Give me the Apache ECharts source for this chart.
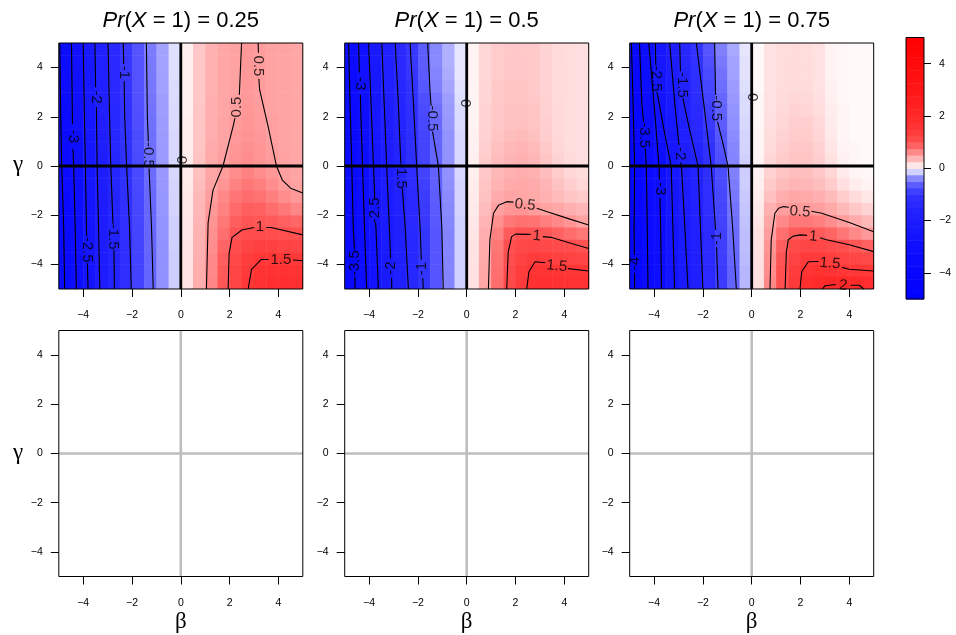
<!DOCTYPE html>
<html><head><meta charset="utf-8">
<script src="https://cdn.jsdelivr.net/npm/echarts@6/dist/echarts.min.js"></script>
<style>html,body{margin:0;padding:0;background:#fff}#c{width:956px;height:635px}</style>
</head><body><div id="c"></div>
<script>
// ---------- data ----------
const betaMid = [-4.75,-4.25,-3.75,-3.25,-2.75,-2.25,-1.75,-1.25,-0.75,-0.25,0.25,0.75,1.25,1.75,2.25,2.75,3.25,3.75,4.25,4.75];
const gammaMid = [4.75,4.25,3.75,3.25,2.75,2.25,1.75,1.25,0.75,0.25,-0.25,-0.75,-1.25,-1.75,-2.25,-2.75,-3.25,-3.75,-4.25,-4.75];
const axisTicks = [-4,-2,0,2,4];
const colorbarTicks = [-4,-2,0,2,4];
const colorbarBreaks = [-5,-4.75,-4.5,-4.25,-4,-3.75,-3.5,-3.25,-3,-2.75,-2.5,-2.25,-2,-1.75,-1.5,-1.25,-1,-0.75,-0.5,-0.25,0,0.25,0.5,0.75,1,1.25,1.5,1.75,2,2.25,2.5,2.75,3,3.25,3.5,3.75,4,4.25,4.5,4.75,5];
const probTitles = ['0.25','0.5','0.75'];

const heat025 = [
[-3.28,-2.76,-2.24,-1.75,-1.31,-0.94,-0.68,-0.44,-0.26,-0.09,0.08,0.28,0.4,0.45,0.48,0.53,0.51,0.48,0.47,0.46],
[-3.3,-2.78,-2.26,-1.77,-1.32,-0.95,-0.69,-0.45,-0.26,-0.09,0.08,0.28,0.4,0.45,0.48,0.53,0.51,0.48,0.47,0.46],
[-3.32,-2.8,-2.28,-1.78,-1.34,-0.96,-0.7,-0.45,-0.27,-0.09,0.08,0.28,0.4,0.45,0.48,0.53,0.51,0.48,0.47,0.46],
[-3.34,-2.82,-2.3,-1.8,-1.35,-0.97,-0.7,-0.46,-0.27,-0.1,0.08,0.28,0.4,0.45,0.48,0.53,0.51,0.48,0.47,0.46],
[-3.36,-2.84,-2.32,-1.82,-1.37,-0.99,-0.71,-0.47,-0.28,-0.1,0.08,0.28,0.41,0.46,0.49,0.53,0.5,0.48,0.47,0.46],
[-3.38,-2.86,-2.34,-1.84,-1.39,-1.0,-0.72,-0.48,-0.28,-0.1,0.08,0.29,0.41,0.46,0.5,0.54,0.51,0.48,0.47,0.46],
[-3.4,-2.88,-2.36,-1.86,-1.41,-1.01,-0.73,-0.49,-0.29,-0.1,0.09,0.29,0.42,0.47,0.51,0.55,0.52,0.49,0.47,0.46],
[-3.42,-2.9,-2.38,-1.88,-1.43,-1.03,-0.74,-0.5,-0.29,-0.11,0.09,0.3,0.42,0.47,0.53,0.56,0.53,0.49,0.47,0.46],
[-3.44,-2.91,-2.39,-1.89,-1.44,-1.04,-0.75,-0.5,-0.3,-0.11,0.09,0.3,0.43,0.48,0.54,0.58,0.55,0.5,0.47,0.46],
[-3.46,-2.93,-2.41,-1.91,-1.46,-1.05,-0.76,-0.51,-0.3,-0.11,0.1,0.31,0.44,0.49,0.56,0.6,0.56,0.52,0.48,0.46],
[-3.48,-2.95,-2.43,-1.93,-1.47,-1.06,-0.77,-0.52,-0.31,-0.11,0.1,0.32,0.45,0.51,0.6,0.66,0.6,0.54,0.49,0.47],
[-3.5,-2.97,-2.45,-1.95,-1.49,-1.08,-0.78,-0.53,-0.31,-0.12,0.11,0.34,0.47,0.56,0.66,0.72,0.68,0.6,0.52,0.48],
[-3.52,-2.99,-2.47,-1.96,-1.5,-1.09,-0.79,-0.54,-0.32,-0.12,0.12,0.36,0.5,0.62,0.74,0.8,0.76,0.68,0.6,0.53],
[-3.54,-3.01,-2.49,-1.98,-1.52,-1.1,-0.8,-0.55,-0.32,-0.12,0.12,0.37,0.53,0.67,0.82,0.9,0.88,0.8,0.72,0.64],
[-3.56,-3.03,-2.51,-2.0,-1.53,-1.11,-0.81,-0.55,-0.33,-0.13,0.13,0.38,0.56,0.72,0.9,0.97,0.96,0.93,0.88,0.84],
[-3.57,-3.04,-2.52,-2.01,-1.54,-1.12,-0.82,-0.56,-0.33,-0.13,0.13,0.39,0.58,0.78,0.98,1.08,1.1,1.08,1.03,0.99],
[-3.58,-3.05,-2.53,-2.02,-1.55,-1.13,-0.82,-0.56,-0.34,-0.13,0.14,0.4,0.6,0.85,1.08,1.25,1.33,1.33,1.28,1.22],
[-3.59,-3.06,-2.54,-2.02,-1.55,-1.13,-0.83,-0.57,-0.34,-0.14,0.14,0.41,0.62,0.9,1.15,1.38,1.5,1.52,1.5,1.46],
[-3.6,-3.07,-2.55,-2.03,-1.56,-1.14,-0.83,-0.57,-0.34,-0.14,0.15,0.42,0.63,0.93,1.2,1.45,1.62,1.7,1.68,1.62],
[-3.6,-3.07,-2.55,-2.03,-1.56,-1.14,-0.83,-0.57,-0.34,-0.14,0.15,0.42,0.64,0.95,1.22,1.5,1.7,1.78,1.77,1.72]
];
const heat050 = [
[-3.39,-2.78,-2.25,-1.79,-1.35,-0.95,-0.62,-0.38,-0.22,-0.07,0.06,0.2,0.26,0.28,0.28,0.27,0.22,0.18,0.17,0.16],
[-3.39,-2.78,-2.25,-1.79,-1.35,-0.95,-0.62,-0.38,-0.22,-0.07,0.06,0.2,0.26,0.28,0.28,0.27,0.22,0.18,0.17,0.16],
[-3.41,-2.81,-2.27,-1.81,-1.37,-0.97,-0.64,-0.4,-0.23,-0.07,0.06,0.2,0.26,0.28,0.28,0.27,0.22,0.18,0.17,0.16],
[-3.43,-2.84,-2.29,-1.84,-1.4,-1.0,-0.67,-0.42,-0.25,-0.08,0.06,0.21,0.27,0.29,0.29,0.27,0.22,0.18,0.17,0.16],
[-3.47,-2.9,-2.34,-1.89,-1.46,-1.06,-0.72,-0.47,-0.28,-0.09,0.06,0.21,0.27,0.3,0.3,0.28,0.23,0.18,0.17,0.16],
[-3.5,-2.95,-2.38,-1.93,-1.51,-1.1,-0.76,-0.51,-0.3,-0.1,0.06,0.22,0.28,0.31,0.31,0.29,0.23,0.19,0.17,0.16],
[-3.52,-2.99,-2.41,-1.96,-1.54,-1.13,-0.79,-0.54,-0.31,-0.1,0.06,0.22,0.28,0.31,0.32,0.3,0.24,0.19,0.17,0.16],
[-3.54,-3.02,-2.43,-1.98,-1.57,-1.16,-0.82,-0.57,-0.33,-0.11,0.07,0.23,0.3,0.33,0.35,0.32,0.25,0.19,0.17,0.16],
[-3.54,-3.02,-2.43,-1.98,-1.57,-1.16,-0.82,-0.57,-0.33,-0.11,0.07,0.24,0.32,0.36,0.38,0.35,0.27,0.2,0.17,0.16],
[-3.54,-3.02,-2.43,-1.98,-1.57,-1.16,-0.82,-0.57,-0.33,-0.11,0.08,0.26,0.34,0.38,0.4,0.37,0.3,0.22,0.18,0.16],
[-3.56,-3.04,-2.46,-2.0,-1.6,-1.19,-0.84,-0.59,-0.34,-0.11,0.08,0.28,0.36,0.4,0.42,0.4,0.34,0.26,0.2,0.17],
[-3.59,-3.06,-2.5,-2.03,-1.63,-1.23,-0.87,-0.61,-0.35,-0.12,0.09,0.3,0.39,0.43,0.44,0.43,0.38,0.31,0.25,0.2],
[-3.62,-3.09,-2.54,-2.07,-1.67,-1.28,-0.9,-0.63,-0.37,-0.12,0.1,0.31,0.43,0.47,0.45,0.44,0.4,0.35,0.3,0.26],
[-3.64,-3.11,-2.57,-2.1,-1.7,-1.31,-0.92,-0.64,-0.38,-0.12,0.11,0.34,0.49,0.55,0.56,0.52,0.48,0.45,0.41,0.37],
[-3.66,-3.13,-2.6,-2.12,-1.72,-1.34,-0.94,-0.66,-0.39,-0.13,0.12,0.38,0.58,0.72,0.77,0.75,0.68,0.62,0.55,0.48],
[-3.7,-3.16,-2.64,-2.16,-1.76,-1.39,-0.98,-0.68,-0.4,-0.13,0.13,0.41,0.66,0.92,0.99,0.98,0.94,0.88,0.8,0.72],
[-3.7,-3.16,-2.64,-2.16,-1.76,-1.39,-0.98,-0.68,-0.4,-0.13,0.14,0.43,0.72,1.01,1.15,1.2,1.16,1.1,1.06,0.98],
[-3.7,-3.16,-2.64,-2.16,-1.76,-1.39,-0.98,-0.68,-0.4,-0.13,0.14,0.44,0.76,1.07,1.28,1.43,1.38,1.33,1.28,1.23],
[-3.7,-3.16,-2.64,-2.16,-1.76,-1.39,-0.98,-0.68,-0.4,-0.13,0.15,0.45,0.78,1.1,1.37,1.6,1.58,1.56,1.52,1.5],
[-3.7,-3.16,-2.64,-2.16,-1.76,-1.39,-0.98,-0.68,-0.4,-0.13,0.15,0.46,0.8,1.12,1.42,1.7,1.72,1.7,1.66,1.63]
];
const heat075 = [
[-3.74,-3.04,-2.38,-1.89,-1.39,-0.99,-0.68,-0.42,-0.24,-0.07,0.03,0.14,0.17,0.18,0.17,0.15,0.06,0.04,0.03,0.03],
[-3.76,-3.08,-2.44,-1.94,-1.44,-1.04,-0.72,-0.45,-0.26,-0.08,0.03,0.14,0.17,0.18,0.17,0.15,0.06,0.04,0.03,0.03],
[-3.79,-3.13,-2.5,-2.0,-1.49,-1.09,-0.76,-0.48,-0.27,-0.08,0.03,0.14,0.17,0.18,0.17,0.15,0.06,0.04,0.03,0.03],
[-3.81,-3.17,-2.56,-2.05,-1.54,-1.14,-0.8,-0.51,-0.29,-0.09,0.03,0.14,0.17,0.18,0.18,0.15,0.07,0.04,0.03,0.03],
[-3.83,-3.22,-2.63,-2.11,-1.6,-1.2,-0.84,-0.55,-0.31,-0.1,0.04,0.15,0.18,0.2,0.19,0.16,0.08,0.04,0.03,0.03],
[-3.86,-3.26,-2.71,-2.18,-1.66,-1.27,-0.89,-0.59,-0.33,-0.1,0.04,0.15,0.19,0.22,0.21,0.17,0.09,0.05,0.03,0.03],
[-3.88,-3.31,-2.79,-2.26,-1.73,-1.35,-0.93,-0.63,-0.35,-0.11,0.04,0.16,0.2,0.24,0.24,0.19,0.1,0.05,0.03,0.03],
[-3.91,-3.36,-2.86,-2.33,-1.8,-1.42,-0.98,-0.67,-0.37,-0.12,0.05,0.17,0.22,0.26,0.26,0.21,0.11,0.05,0.03,0.03],
[-3.93,-3.4,-2.92,-2.39,-1.85,-1.49,-1.02,-0.7,-0.39,-0.12,0.05,0.18,0.24,0.28,0.28,0.23,0.13,0.06,0.04,0.03],
[-3.95,-3.44,-2.98,-2.44,-1.9,-1.55,-1.06,-0.73,-0.4,-0.13,0.06,0.2,0.26,0.3,0.3,0.25,0.15,0.07,0.04,0.03],
[-3.95,-3.45,-2.99,-2.46,-1.93,-1.57,-1.09,-0.75,-0.42,-0.14,0.07,0.23,0.3,0.33,0.33,0.28,0.2,0.1,0.05,0.04],
[-3.95,-3.45,-3.0,-2.48,-1.96,-1.6,-1.12,-0.77,-0.44,-0.14,0.08,0.27,0.35,0.38,0.37,0.33,0.26,0.16,0.09,0.06],
[-3.96,-3.46,-3.01,-2.5,-1.99,-1.63,-1.15,-0.79,-0.46,-0.15,0.09,0.32,0.42,0.45,0.44,0.41,0.35,0.26,0.18,0.12],
[-3.96,-3.47,-3.02,-2.52,-2.02,-1.67,-1.18,-0.82,-0.48,-0.16,0.11,0.4,0.5,0.53,0.52,0.5,0.44,0.36,0.28,0.22],
[-3.97,-3.47,-3.02,-2.53,-2.05,-1.7,-1.21,-0.84,-0.5,-0.17,0.13,0.46,0.62,0.72,0.72,0.68,0.6,0.51,0.43,0.36],
[-3.97,-3.48,-3.03,-2.55,-2.08,-1.73,-1.24,-0.86,-0.52,-0.18,0.14,0.5,0.78,0.92,0.96,0.92,0.85,0.73,0.62,0.53],
[-3.97,-3.49,-3.04,-2.56,-2.1,-1.76,-1.26,-0.88,-0.54,-0.18,0.15,0.55,0.9,1.12,1.2,1.18,1.1,1.04,0.96,0.88],
[-3.98,-3.49,-3.04,-2.57,-2.11,-1.78,-1.28,-0.89,-0.56,-0.19,0.15,0.58,0.97,1.28,1.44,1.42,1.35,1.28,1.2,1.12],
[-3.98,-3.5,-3.05,-2.58,-2.13,-1.8,-1.3,-0.91,-0.58,-0.2,0.16,0.6,1.02,1.38,1.6,1.68,1.62,1.55,1.5,1.48],
[-3.98,-3.5,-3.05,-2.58,-2.13,-1.8,-1.3,-0.91,-0.58,-0.2,0.16,0.62,1.05,1.45,1.78,1.95,1.98,1.98,1.93,1.85]
];

// contour segments: [level, [[beta,gamma],...]]
const contours025 = [
 [-3.5,[[-4.96,5],[-4.92,2],[-4.88,0],[-4.8,-2.5],[-4.76,-5]]],
 [-3,[[-4.48,5],[-4.44,1.7]]],
 [-3,[[-4.42,0.7],[-4.39,0],[-4.33,-2.5],[-4.28,-5]]],
 [-2.5,[[-4.0,5],[-3.95,2],[-3.91,0],[-3.86,-2.85]]],
 [-2.5,[[-3.83,-3.95],[-3.8,-5]]],
 [-2,[[-3.52,5],[-3.49,3.2]]],
 [-2,[[-3.46,2.4],[-3.43,0],[-3.37,-2.5],[-3.32,-5]]],
 [-1.5,[[-2.98,5],[-2.92,2],[-2.87,0],[-2.78,-2.35]]],
 [-1.5,[[-2.74,-3.4],[-2.72,-5]]],
 [-1,[[-2.36,5],[-2.34,4.15]]],
 [-1,[[-2.32,3.45],[-2.3,2],[-2.22,0],[-2.1,-2.5],[-2.03,-5]]],
 [-0.5,[[-1.41,5],[-1.37,2],[-1.33,1.0]]],
 [-0.5,[[-1.3,-0.1],[-1.2,-2.5],[-1.13,-5]]],
 [0.5,[[2.49,5],[2.4,2.9]]],
 [0.5,[[2.22,1.95],[2.14,1.6],[1.73,0],[1.32,-0.98],[1.12,-2.3],[1.05,-5]]],
 [0.5,[[3.17,5],[3.18,4.6]]],
 [0.5,[[3.2,3.55],[3.23,3.1],[3.58,1.6],[3.92,0],[4.16,-0.57],[4.5,-0.9],[5,-1.1]]],
 [1,[[1.94,-5],[1.98,-3.55],[2.1,-2.9],[2.5,-2.6],[3.0,-2.5]]],
 [1,[[3.5,-2.5],[3.7,-2.5],[5,-2.8]]],
 [1.5,[[2.76,-5],[2.9,-4.2],[3.3,-3.8],[3.6,-3.8]]],
 [1.5,[[4.6,-3.82],[5,-3.85]]]
];
const contours050 = [
 [-3.5,[[-4.84,5],[-4.78,2.5],[-4.71,0],[-4.65,-2.5],[-4.6,-3.4]]],
 [-3.5,[[-4.58,-4.5],[-4.58,-5]]],
 [-3,[[-4.43,5],[-4.4,3.8]]],
 [-3,[[-4.36,2.9],[-4.35,2.5],[-4.27,0],[-4.19,-2.5],[-4.1,-5]]],
 [-2.5,[[-4.02,5],[-3.92,2.5],[-3.82,0],[-3.77,-1.3]]],
 [-2.5,[[-3.74,-2.3],[-3.72,-2.5],[-3.62,-5]]],
 [-2,[[-3.48,5],[-3.38,2.5],[-3.28,0],[-3.17,-2.5],[-3.12,-3.75]]],
 [-2,[[-3.08,-4.55],[-3.07,-5]]],
 [-1.5,[[-2.93,5],[-2.8,2.5],[-2.7,0.1]]],
 [-1.5,[[-2.64,-0.9],[-2.52,-2.5],[-2.39,-5]]],
 [-1,[[-2.32,5],[-2.18,2.5],[-2.05,0],[-1.91,-2.5],[-1.86,-3.8]]],
 [-1,[[-1.8,-4.55],[-1.78,-5]]],
 [-0.5,[[-1.6,5],[-1.5,3],[-1.46,2.45]]],
 [-0.5,[[-1.4,1.4],[-1.16,0],[-1.02,-2.5],[-0.96,-5]]],
 [0.5,[[0.89,-5],[0.95,-3],[1.1,-1.92],[1.3,-1.6],[1.64,-1.45],[1.92,-1.47]]],
 [0.5,[[2.87,-1.72],[3.3,-1.86],[4.2,-2.15],[5,-2.4]]],
 [1,[[1.64,-5],[1.7,-3.5],[1.84,-2.87],[2.0,-2.77],[2.62,-2.78]]],
 [1,[[3.12,-2.87],[3.45,-2.9],[4.3,-3.15],[5,-3.35]]],
 [1.5,[[2.46,-5],[2.55,-4.3],[2.8,-3.89],[3.22,-3.93]]],
 [1.5,[[4.15,-4.17],[5,-4.27]]]
];
const contours075 = [
 [-4,[[-4.93,5],[-4.86,2.5],[-4.8,0],[-4.82,-2.5],[-4.81,-3.6]]],
 [-4,[[-4.8,-4.35],[-4.8,-5]]],
 [-3.5,[[-4.6,5],[-4.5,2.5],[-4.43,1.8]]],
 [-3.5,[[-4.36,0.7],[-4.32,0],[-4.28,-2.5],[-4.25,-5]]],
 [-3,[[-4.22,5],[-4.0,2.5],[-3.8,0],[-3.78,-0.55]]],
 [-3,[[-3.76,-1.3],[-3.73,-2.5],[-3.7,-5]]],
 [-2.5,[[-3.95,5],[-3.93,4.1]]],
 [-2.5,[[-3.88,3.0],[-3.6,1.5],[-3.3,0],[-3.23,-2.5],[-3.16,-5]]],
 [-2,[[-3.36,5],[-3.15,2.5],[-2.98,0.85]]],
 [-2,[[-2.92,0.15],[-2.88,0],[-2.74,-2.5],[-2.61,-5]]],
 [-1.5,[[-2.95,5],[-2.92,3.85]]],
 [-1.5,[[-2.82,2.75],[-2.55,1.5],[-2.2,0],[-2.1,-2.5],[-2.0,-5]]],
 [-1,[[-2.27,5],[-1.96,2.5],[-1.66,0],[-1.48,-2.6]]],
 [-1,[[-1.44,-3.3],[-1.38,-5]]],
 [-0.5,[[-1.52,5],[-1.48,2.9]]],
 [-0.5,[[-1.4,1.8],[-1.2,1.0],[-0.97,0],[-0.78,-2.5],[-0.63,-5]]],
 [0.5,[[0.75,-5],[0.8,-3],[0.95,-1.92],[1.1,-1.72],[1.3,-1.65],[1.52,-1.68]]],
 [0.5,[[2.45,-1.84],[2.87,-1.92],[4,-2.3],[5,-2.67]]],
 [1,[[1.37,-5],[1.42,-3.5],[1.5,-3.0],[1.7,-2.85],[2.0,-2.8],[2.27,-2.82]]],
 [1,[[2.8,-2.92],[3.07,-3.0],[4,-3.2],[5,-3.48]]],
 [1.5,[[1.98,-5],[2.05,-4.3],[2.32,-3.89],[2.74,-3.88]]],
 [1.5,[[3.7,-4.12],[4.0,-4.2],[5,-4.27]]],
 [2,[[2.9,-5],[3.0,-4.87],[3.45,-4.82]]],
 [2,[[4.05,-4.85],[4.4,-4.85],[4.6,-5]]]
];

// contour labels: [text, beta, gamma, rotation]
const labels025 = [['-1',-2.33,3.8,-90],['-2',-3.47,2.8,-90],['-3',-4.43,1.2,-90],['-0.5',-1.32,0.45,-90],['-1.5',-2.76,-2.87,-90],['-2.5',-3.84,-3.4,-90],['0',0,0.25,-90],['0.5',2.3,2.4,90],['0.5',3.19,4.07,-90],['1',3.24,-2.47,0],['1.5',4.1,-3.8,0]];
const labels050 = [['-3',-4.38,3.35,-90],['-0.5',-1.43,1.93,-90],['-1.5',-2.67,-0.4,-90],['-2.5',-3.75,-1.8,90],['-3.5',-4.59,-3.95,90],['-2',-3.1,-4.15,90],['-1',-1.83,-4.17,90],['0',-0.05,2.55,-90],['0.5',2.39,-1.58,-6],['1',2.87,-2.84,-5],['1.5',3.69,-4.07,-5]];
const labels075 = [['-2.5',-3.91,3.55,-90],['-1.5',-2.87,3.3,-90],['-0.5',-1.44,2.35,-90],['-3.5',-4.4,1.25,-90],['-2',-2.95,0.5,-90],['-3',-3.77,-0.92,-90],['-1',-1.43,-2.95,90],['-4',-4.8,-3.97,90],['0',0,2.8,-90],['0.5',1.98,-1.86,-5],['1',2.52,-2.87,-5],['1.5',3.21,-3.96,-5],['2',3.75,-4.86,-5]];

const zeroRefs = [[[0,-5],[0,5]],[[-5,0],[5,0]]];

// ---------- styling / building ----------
const heatPanels = [heat025, heat050, heat075];
const contourPanels = [contours025, contours050, contours075];
const labelPanels = [labels025, labels050, labels075];

const stops = [[-5,[0,0,255]],[-3,[14,14,255]],[-2,[28,28,255]],[-1.5,[36,36,255]],[-1,[50,50,255]],[-0.75,[75,75,255]],[-0.5,[110,110,255]],[-0.25,[165,165,255]],[0,[255,255,255]],[0.25,[255,205,205]],[0.5,[255,158,158]],[0.75,[255,115,115]],[1,[255,80,80]],[1.5,[255,55,55]],[2,[255,40,40]],[3,[255,22,22]],[5,[255,0,0]]];
function colorFor(v){
  if (v <= stops[0][0]) return 'rgb(0,0,255)';
  for (let i=1;i<stops.length;i++){
    if (v <= stops[i][0]) {
      const a=stops[i-1], b=stops[i], t=(v-a[0])/(b[0]-a[0]);
      const c=a[1].map((x,k)=>Math.round(x+(b[1][k]-x)*t));
      return 'rgb('+c.join(',')+')';
    }
  }
  return 'rgb(255,0,0)';
}

const FONT = 'Liberation Sans, Arial, Helvetica, sans-serif';
const SERIF = 'Liberation Serif, DejaVu Serif, serif';
const lefts = [58.8, 344.7, 629.7];
const W = 244, H = 246, TOPS = [43, 330.5];
const fmt = v => v < 0 ? '\u2212' + (-v) : String(v);

const grid = [], xAxis = [], yAxis = [], series = [], graphic = [];
for (let r=0;r<2;r++) for (let c=0;c<3;c++){
  const gi = r*3+c;
  grid.push({left:lefts[c], top:TOPS[r], width:W, height:H, show:true, borderColor:'#000', borderWidth:1, backgroundColor:'transparent', z:10});
  xAxis.push({gridIndex:gi, type:'value', min:-5, max:5, position:'bottom', axisLine:{show:false, onZero:false}, splitLine:{show:false},
    axisTick:{show:true, length:8, customValues:axisTicks, lineStyle:{color:'#000', width:1}},
    axisLabel:{customValues:axisTicks, formatter:fmt, fontSize:10.5, color:'#000', fontFamily:FONT, margin:21}});
  yAxis.push({gridIndex:gi, type:'value', min:-5, max:5, position:'left', axisLine:{show:false, onZero:false}, splitLine:{show:false},
    axisTick:{show:true, length:8, customValues:axisTicks, lineStyle:{color:'#000', width:1}},
    axisLabel:{customValues:axisTicks, formatter:fmt, fontSize:10.5, color:'#000', fontFamily:FONT, margin:16}});
}
// colorbar grid
grid.push({left:906, top:37.5, width:18, height:261.5, show:true, borderColor:'#000', borderWidth:1, backgroundColor:'transparent', z:10});
xAxis.push({gridIndex:6, type:'value', min:0, max:1, show:false});
yAxis.push({gridIndex:6, type:'value', min:-5, max:5, position:'right', axisLine:{show:false, onZero:false}, splitLine:{show:false},
  axisTick:{show:true, length:7, customValues:colorbarTicks, lineStyle:{color:'#000'}},
  axisLabel:{customValues:colorbarTicks, formatter:fmt, fontSize:10.5, color:'#000', fontFamily:FONT, margin:15}});

function renderCell(params, api){
  const b = api.value(0), g = api.value(1), v = api.value(2);
  const p0 = api.coord([b-0.25, g+0.25]);
  const p1 = api.coord([b+0.25, g-0.25]);
  return {type:'rect', shape:{x:p0[0], y:p0[1], width:p1[0]-p0[0]+0.5, height:p1[1]-p0[1]+0.5},
          style:{fill:colorFor(v)}};
}

for (let c=0;c<3;c++){
  const rows = heatPanels[c];
  const data = [];
  rows.forEach((row, ri) => row.forEach((v, ci) => data.push([betaMid[ci], gammaMid[ri], v])));
  series.push({type:'custom', xAxisIndex:c, yAxisIndex:c, data, renderItem:renderCell, encode:{x:0, y:1},
    clip:true, silent:true, animation:false, z:1});
  contourPanels[c].forEach(seg => series.push({type:'line', xAxisIndex:c, yAxisIndex:c, data:seg[1],
    showSymbol:false, symbol:'none', lineStyle:{color:'#000', width:1.1}, silent:true, animation:false, z:3, clip:true}));
  series.push({type:'scatter', xAxisIndex:c, yAxisIndex:c, symbolSize:0, silent:true, animation:false, z:4,
    data: labelPanels[c].map(l => ({name:l[0], value:[l[1], l[2]], label:{rotate:l[3]}})),
    label:{show:true, position:'inside', formatter:'{b}', fontSize:15, color:'#000', fontFamily:FONT}});
  zeroRefs.forEach(z => series.push({type:'line', xAxisIndex:c, yAxisIndex:c, data:z, showSymbol:false, symbol:'none',
    lineStyle:{color:'#000', width:2.8}, silent:true, animation:false, z:5}));
  // bottom empty panel
  zeroRefs.forEach(z => series.push({type:'line', xAxisIndex:c+3, yAxisIndex:c+3, data:z, showSymbol:false, symbol:'none',
    lineStyle:{color:'#bebebe', width:2.6}, silent:true, animation:false, z:5}));
  // titles and axis names
  const cx = lefts[c] + W/2;
  graphic.push({type:'text', x:cx, y:21, silent:true, style:{text:'{i|Pr}(' + '{i|X} = 1) = ' + probTitles[c],
    fontSize:22, fontFamily:FONT, fill:'#000', align:'center', verticalAlign:'middle',
    rich:{i:{fontStyle:'italic', fontSize:22, fontFamily:FONT}}}});
  graphic.push({type:'text', x:cx, y:622, silent:true, style:{text:'\u03b2', fontSize:23, fontFamily:SERIF, fill:'#000', align:'center', verticalAlign:'middle'}});
}
graphic.push({type:'text', x:18, y:165, silent:true, style:{text:'\u03b3', fontSize:23, fontFamily:SERIF, fill:'#000', align:'center', verticalAlign:'middle'}});
graphic.push({type:'text', x:18, y:452.5, silent:true, style:{text:'\u03b3', fontSize:23, fontFamily:SERIF, fill:'#000', align:'center', verticalAlign:'middle'}});

// colorbar
series.push({type:'custom', xAxisIndex:6, yAxisIndex:6, silent:true, animation:false, z:1,
  data: colorbarBreaks.slice(0,-1).map((lo,i)=>[0, lo, colorbarBreaks[i+1]]),
  encode:{x:0, y:[1,2]},
  renderItem:(params, api)=>{
    const lo = api.value(1), hi = api.value(2);
    const p0 = api.coord([0, hi]), p1 = api.coord([1, lo]);
    return {type:'rect', shape:{x:p0[0], y:p0[1], width:p1[0]-p0[0], height:p1[1]-p0[1]+0.5}, style:{fill:colorFor((lo+hi)/2)}};
  }});

const chart = echarts.init(document.getElementById('c'), null, {renderer:'canvas'});
chart.setOption({animation:false, backgroundColor:'#fff', grid, xAxis, yAxis, series, graphic});
</script>
</body></html>
